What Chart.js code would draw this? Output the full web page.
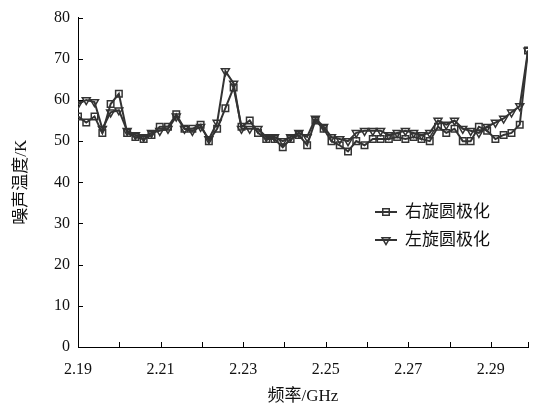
<!DOCTYPE html>
<html><head><meta charset="utf-8">
<script src="https://cdn.jsdelivr.net/npm/chart.js@4"></script>
<style>html,body{margin:0;padding:0;background:#fff}#wrap{width:541px;height:408px;position:relative}</style>
</head><body><div id="wrap"><canvas id="c"></canvas></div>
<script>
const freqs = [2.1900,2.1920,2.1940,2.1959,2.1979,2.1999,2.2019,2.2039,2.2059,2.2078,
  2.2098,2.2118,2.2138,2.2158,2.2177,2.2197,2.2217,2.2237,2.2257,2.2277,
  2.2296,2.2316,2.2336,2.2356,2.2376,2.2396,2.2415,2.2435,2.2455,2.2475,
  2.2495,2.2514,2.2534,2.2554,2.2574,2.2594,2.2614,2.2633,2.2653,2.2673,
  2.2693,2.2713,2.2732,2.2752,2.2772,2.2792,2.2812,2.2832,2.2851,2.2871,
  2.2891,2.2911,2.2931,2.2950,2.2970,2.2990];
const rhcp = [56,54.5,56,52,59,61.5,52,51,50.5,51.5,
  53.5,53.5,56.5,53,53,54,50,53,58,63,
  53.5,55,52,50.5,50.5,48.5,50.5,51.5,49,55,
  53,50,49,47.5,50,49,50.5,50.5,50.5,51,
  50.5,51,50.5,50,53.5,52,53,50,50,53.5,
  52.5,50.5,51.5,52,54,72];
const lhcp = [59,60,59.5,53,57,57.5,52.5,51.5,51,52,
  52.5,53,56,53,52.5,53.5,50.5,54.5,67,64,
  53,53,53,51,51,50,51,52,51,55.5,
  53.5,51,50.5,50,52,52.5,52.5,52.5,51.5,52,
  52.5,52,51.5,52,55,54,55,53,52.5,52,
  53.5,54.5,55.5,57,58.5,72];
const xMin = 2.19, xMax = 2.299;
const xTickValues = [2.19,2.20,2.21,2.22,2.23,2.24,2.25,2.26,2.27,2.28,2.29,2.299];
const xTickLabels = ['2.19','','2.21','','2.23','','2.25','','2.27','','2.29',''];
const yTickValues = [0,10,20,30,40,50,60,70,80];
const seriesNames = ['右旋圆极化','左旋圆极化'];
const xTitle = '频率/GHz';
const yTitle = '噪声温度/K';

const FONT = "'Liberation Serif', 'Noto Sans CJK SC', serif";
const LINE = '#333333';

const insideTicks = {
  id: 'insideTicks',
  afterDraw(chart) {
    const ctx = chart.ctx, xs = chart.scales.x, ys = chart.scales.y, a = chart.chartArea;
    ctx.save();
    ctx.strokeStyle = '#000'; ctx.lineWidth = 1;
    ctx.beginPath();
    xs.ticks.forEach((t, i) => {
      const px = Math.round(xs.getPixelForTick(i)) + 0.5;
      ctx.moveTo(px, a.bottom); ctx.lineTo(px, a.bottom - 5);
    });
    ys.ticks.forEach((t, i) => {
      const py = Math.round(ys.getPixelForTick(i)) + 0.5;
      ctx.moveTo(a.left, py); ctx.lineTo(a.left + 5, py);
    });
    ctx.stroke();
    ctx.restore();
  }
};

const customLegend = {
  id: 'customLegend',
  afterDraw(chart) {
    const ctx = chart.ctx;
    const x0 = 375, y0 = 212, dy = 28;
    chart.data.datasets.forEach((ds, i) => {
      const y = y0 + i * dy;
      ctx.save();
      ctx.strokeStyle = ds.borderColor; ctx.lineWidth = ds.borderWidth;
      ctx.beginPath(); ctx.moveTo(x0, y); ctx.lineTo(x0 + 22, y); ctx.stroke();
      ctx.lineWidth = ds.pointBorderWidth;
      ctx.strokeStyle = ds.pointBorderColor; ctx.fillStyle = ds.pointBackgroundColor;
      Chart.helpers.drawPoint(ctx, {pointStyle: ds.pointStyle, rotation: ds.pointRotation || 0, radius: ds.pointRadius, borderWidth: ds.pointBorderWidth}, x0 + 11, y);
      ctx.fillStyle = '#111';
      ctx.font = "17px " + FONT;
      ctx.textBaseline = 'middle';
      ctx.fillText(ds.label, x0 + 30, y + 1);
      ctx.restore();
    });
  }
};

const mkData = (ys) => freqs.map((f, i) => ({x: f, y: ys[i]}));

new Chart(document.getElementById('c'), {
  type: 'line',
  data: {
    datasets: [
      {label: seriesNames[0], data: mkData(rhcp), borderColor: LINE, borderWidth: 2,
       pointStyle: 'rect', pointRadius: 4.6, pointBorderWidth: 1.5, pointBorderColor: LINE,
       pointBackgroundColor: 'rgba(255,255,255,0)', tension: 0},
      {label: seriesNames[1], data: mkData(lhcp), borderColor: LINE, borderWidth: 2,
       pointStyle: 'triangle', pointRotation: 180, pointRadius: 4.6, pointBorderWidth: 1.5, pointBorderColor: LINE,
       pointBackgroundColor: 'rgba(255,255,255,0)', tension: 0}
    ]
  },
  options: {
    responsive: true, maintainAspectRatio: false, animation: false, devicePixelRatio: 1,
    layout: {padding: {left: 0, right: 8, top: 16, bottom: 0}},
    plugins: {legend: {display: false}, tooltip: {enabled: false}},
    scales: {
      x: {
        type: 'linear', min: xMin, max: xMax,
        afterBuildTicks: s => { s.ticks = xTickValues.map(v => ({value: v})); },
        afterFit: s => { s.height = 61; },
        grid: {display: true, drawOnChartArea: false, drawTicks: false},
        border: {display: true, color: '#000', width: 1},
        ticks: {autoSkip: false, maxRotation: 0, padding: 13, color: '#111',
          font: {family: FONT, size: 16},
          callback: (v, i) => xTickLabels[i]},
        title: {display: true, text: xTitle, color: '#111', font: {family: FONT, size: 17}, padding: {top: 0, bottom: 1}}
      },
      y: {
        min: 0, max: 80,
        afterBuildTicks: s => { s.ticks = yTickValues.map(v => ({value: v})); },
        afterFit: s => { s.width = 78; },
        grid: {display: true, drawOnChartArea: false, drawTicks: false},
        border: {display: true, color: '#000', width: 1},
        ticks: {padding: 8, color: '#111', font: {family: FONT, size: 16}, callback: v => String(v)},
        title: {display: true, text: yTitle, color: '#111', font: {family: FONT, size: 17}, padding: {top: 11, bottom: 0}}
      }
    }
  },
  plugins: [insideTicks, customLegend]
});
</script></body></html>
